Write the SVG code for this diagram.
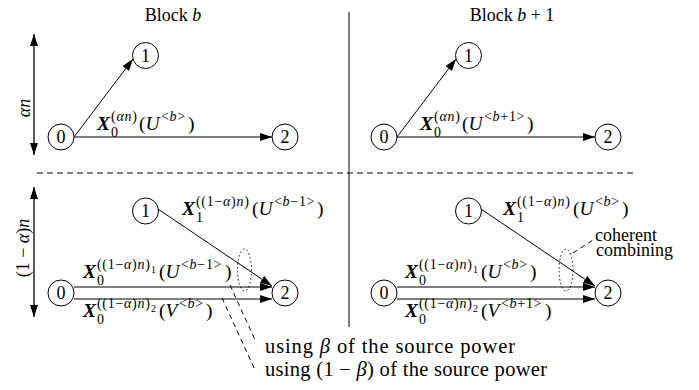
<svg xmlns="http://www.w3.org/2000/svg" width="699" height="390" viewBox="0 0 699 390">
<style>
text{font-family:"Liberation Serif","Times New Roman",serif;fill:#000}
.t{font-size:18px}
.u{font-size:20.5px}
.m{font-size:19.5px}
.s{font-size:14px;letter-spacing:0.7px}
.ss{font-size:10px}
.bx{font-weight:bold;font-style:italic}
.i{font-style:italic}
.node circle{fill:#fff;stroke:#000;stroke-width:1}
.node text{font-size:18px;text-anchor:middle}
.ln{stroke:#000;stroke-width:1;fill:none}
.ar{marker-end:url(#ah)}
.dbl{marker-start:url(#ah);marker-end:url(#ah);stroke-width:1.3}
.dash{stroke-dasharray:6 4}
.ldash{stroke-dasharray:5 4}
.dot{stroke-dasharray:1.5 2.5}
</style>
<defs>
<marker id="ah" markerUnits="userSpaceOnUse" markerWidth="13" markerHeight="8" refX="12" refY="4" orient="auto-start-reverse"><path d="M0,0 L12,4 L0,8 z" fill="#000"/></marker>
</defs>
<rect width="699" height="390" fill="#fff"/>

<g id="frame">
<line class="ln" x1="349" y1="12" x2="349" y2="327"/>
<line class="ln dash" x1="37" y1="173" x2="637" y2="173"/>
<line class="ln dbl" x1="34" y1="34" x2="34" y2="155"/>
<line class="ln dbl" x1="34" y1="187" x2="34" y2="317"/>
<text class="t" x="173" y="21" text-anchor="middle">Block <tspan class="i">b</tspan></text>
<text class="t" x="512" y="21" text-anchor="middle">Block <tspan class="i">b</tspan> + 1</text>
<text class="t" font-size="19" transform="translate(30,108) rotate(-90)" text-anchor="middle"><tspan class="i">αn</tspan></text>
<text class="t" font-size="20" transform="translate(29,248) rotate(-90)" text-anchor="middle">(1 − <tspan class="i">α</tspan>)<tspan class="i">n</tspan></text>
</g>

<g id="connectors">
<line class="ln ar" x1="74" y1="137" x2="133" y2="59"/>
<line class="ln ar" x1="74" y1="137" x2="272" y2="137"/>
<line class="ln ar" x1="397" y1="137" x2="456" y2="59"/>
<line class="ln ar" x1="397" y1="137" x2="595" y2="137"/>
<line class="ln ar" x1="158" y1="209" x2="272" y2="286"/>
<line class="ln ar" x1="74" y1="287" x2="272" y2="287"/>
<line class="ln ar" x1="74" y1="299" x2="272" y2="299"/>
<line class="ln ar" x1="481" y1="209" x2="595" y2="286"/>
<line class="ln ar" x1="397" y1="287" x2="595" y2="287"/>
<line class="ln ar" x1="397" y1="299" x2="595" y2="299"/>
<ellipse class="ln dot" cx="244.5" cy="270" rx="7" ry="21"/>
<ellipse class="ln dot" cx="566" cy="270" rx="7" ry="21"/>
<line class="ln ldash" x1="230" y1="285" x2="256" y2="342"/>
<line class="ln ldash" x1="222" y1="298" x2="255" y2="370"/>
<line class="ln ldash" x1="573" y1="253" x2="593" y2="240"/>
</g>

<g id="n0a" class="node"><circle cx="61" cy="137" r="13"/><text x="61" y="143">0</text></g>
<g id="n1a" class="node"><circle cx="145.5" cy="55.5" r="13"/><text x="145.5" y="61.5">1</text></g>
<g id="n2a" class="node"><circle cx="285" cy="137" r="13"/><text x="285" y="143">2</text></g>
<g id="n0b" class="node"><circle cx="384" cy="137" r="13"/><text x="384" y="143">0</text></g>
<g id="n1b" class="node"><circle cx="468.5" cy="55.5" r="13"/><text x="468.5" y="61.5">1</text></g>
<g id="n2b" class="node"><circle cx="608" cy="137" r="13"/><text x="608" y="143">2</text></g>
<g id="n0c" class="node"><circle cx="61" cy="293" r="13"/><text x="61" y="299">0</text></g>
<g id="n1c" class="node"><circle cx="145.5" cy="211" r="13"/><text x="145.5" y="217">1</text></g>
<g id="n2c" class="node"><circle cx="285" cy="293" r="13"/><text x="285" y="299">2</text></g>
<g id="n0d" class="node"><circle cx="384" cy="293" r="13"/><text x="384" y="299">0</text></g>
<g id="n1d" class="node"><circle cx="468.5" cy="211" r="13"/><text x="468.5" y="217">1</text></g>
<g id="n2d" class="node"><circle cx="608" cy="293" r="13"/><text x="608" y="299">2</text></g>

<g id="labels">
<text class="m"><tspan class="bx" x="97" y="130">X</tspan><tspan class="s" x="111" y="136.5">0</tspan><tspan class="s" x="111" y="121">(<tspan class="i">αn</tspan>)</tspan><tspan x="139" y="130">(<tspan class="i">U</tspan></tspan><tspan class="s" x="161" y="121">&lt;<tspan class="i">b</tspan>&gt;</tspan><tspan x="188" y="130">)</tspan></text>
<text class="m"><tspan class="bx" x="420" y="130">X</tspan><tspan class="s" x="434" y="136.5">0</tspan><tspan class="s" x="434" y="121">(<tspan class="i">αn</tspan>)</tspan><tspan x="462" y="130">(<tspan class="i">U</tspan></tspan><tspan class="s" x="484" y="121">&lt;<tspan class="i">b</tspan>+1&gt;</tspan><tspan x="527" y="130">)</tspan></text>

<text class="m"><tspan class="bx" x="182" y="215">X</tspan><tspan class="s" x="196" y="221.5">1</tspan><tspan class="s" x="196" y="206">((1−<tspan class="i">α</tspan>)<tspan class="i">n</tspan>)</tspan><tspan x="252" y="215">(<tspan class="i">U</tspan></tspan><tspan class="s" x="274" y="206">&lt;<tspan class="i">b</tspan>−1&gt;</tspan><tspan x="317" y="215">)</tspan></text>
<text class="m"><tspan class="bx" x="83" y="278">X</tspan><tspan class="s" x="97" y="284.5">0</tspan><tspan class="s" x="97" y="269">((1−<tspan class="i">α</tspan>)<tspan class="i">n</tspan>)</tspan><tspan class="ss" x="151" y="272.5">1</tspan><tspan x="159" y="278">(<tspan class="i">U</tspan></tspan><tspan class="s" x="181" y="269">&lt;<tspan class="i">b</tspan>−1&gt;</tspan><tspan x="225" y="278">)</tspan></text>
<text class="m"><tspan class="bx" x="83" y="317">X</tspan><tspan class="s" x="97" y="323.5">0</tspan><tspan class="s" x="97" y="308">((1−<tspan class="i">α</tspan>)<tspan class="i">n</tspan>)</tspan><tspan class="ss" x="151" y="311.5">2</tspan><tspan x="159" y="317">(<tspan class="i">V</tspan></tspan><tspan class="s" x="179" y="308">&lt;<tspan class="i">b</tspan>&gt;</tspan><tspan x="206" y="317">)</tspan></text>

<text class="m"><tspan class="bx" x="503" y="215">X</tspan><tspan class="s" x="517" y="221.5">1</tspan><tspan class="s" x="517" y="206">((1−<tspan class="i">α</tspan>)<tspan class="i">n</tspan>)</tspan><tspan x="573" y="215">(<tspan class="i">U</tspan></tspan><tspan class="s" x="595" y="206">&lt;<tspan class="i">b</tspan>&gt;</tspan><tspan x="622" y="215">)</tspan></text>
<text class="m"><tspan class="bx" x="405" y="278">X</tspan><tspan class="s" x="419" y="284.5">0</tspan><tspan class="s" x="419" y="269">((1−<tspan class="i">α</tspan>)<tspan class="i">n</tspan>)</tspan><tspan class="ss" x="473" y="272.5">1</tspan><tspan x="481" y="278">(<tspan class="i">U</tspan></tspan><tspan class="s" x="503" y="269">&lt;<tspan class="i">b</tspan>&gt;</tspan><tspan x="530" y="278">)</tspan></text>
<text class="m"><tspan class="bx" x="405" y="317">X</tspan><tspan class="s" x="419" y="323.5">0</tspan><tspan class="s" x="419" y="308">((1−<tspan class="i">α</tspan>)<tspan class="i">n</tspan>)</tspan><tspan class="ss" x="473" y="311.5">2</tspan><tspan x="481" y="317">(<tspan class="i">V</tspan></tspan><tspan class="s" x="501" y="308">&lt;<tspan class="i">b</tspan>+1&gt;</tspan><tspan x="545" y="317">)</tspan></text>

<text class="t" x="595" y="240.5">coherent</text>
<text class="t" x="596" y="256">combining</text>
<text class="u" x="265" y="353" textLength="250" lengthAdjust="spacing">using <tspan class="i">β</tspan> of the source power</text>
<text class="u" x="265" y="376" textLength="282" lengthAdjust="spacing">using (1 − <tspan class="i">β</tspan>) of the source power</text>
</g>
</svg>
